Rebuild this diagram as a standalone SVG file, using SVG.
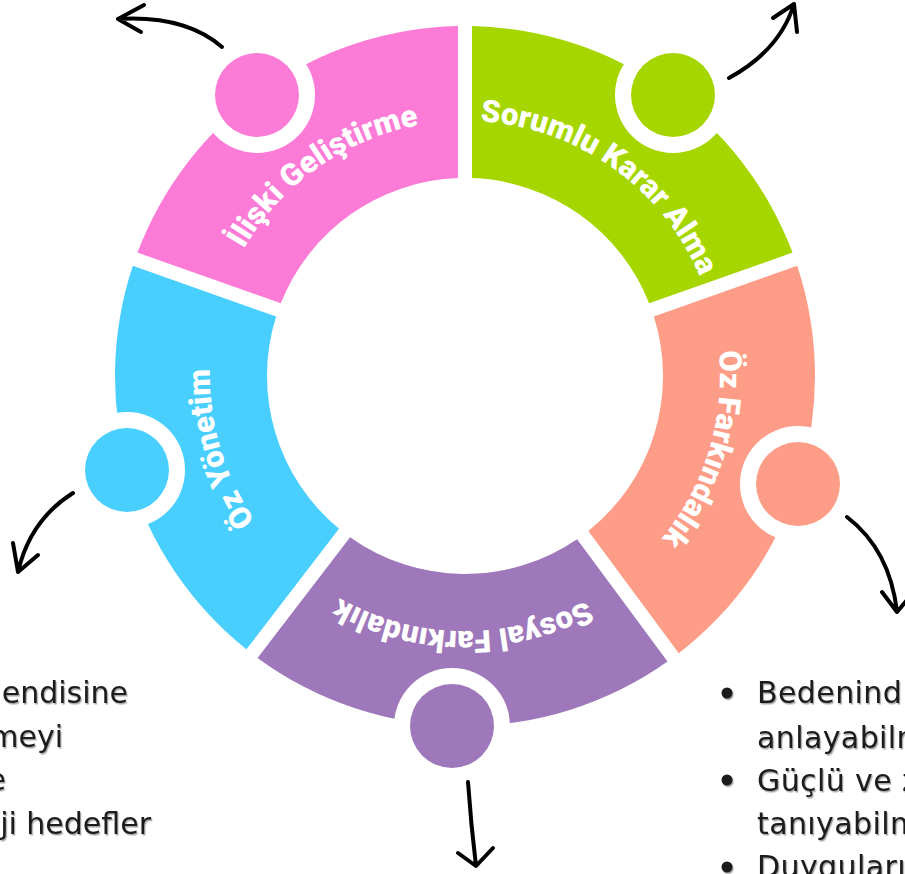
<svg xmlns="http://www.w3.org/2000/svg" xmlns:xlink="http://www.w3.org/1999/xlink" width="905" height="874" viewBox="0 0 905 874">
  <defs>
    <style>
      .label { font-family: Roboto, Inter, "Noto Sans", sans-serif; font-weight: 900; font-size: 31px; fill: #ffffff; }
      .body { font-family: "DejaVu Sans", "Liberation Sans", sans-serif; font-size: 30px; fill: #1c1c1c; filter: url(#shadow); }
      .arrow { fill: none; stroke: #000000; stroke-width: 4; stroke-linecap: round; stroke-linejoin: round; }
      .ring { fill: #ffffff; }
    </style>
    <filter id="shadow" x="-10%" y="-30%" width="120%" height="160%">
      <feDropShadow dx="1.2" dy="1.5" stdDeviation="0.7" flood-color="#000000" flood-opacity="0.35"/>
    </filter>
    <path id="arcPink" d="M218.4,311.1 A255,255 0 0 1 486.1,121.9"/>
    <path id="arcGreen" d="M443.9,121.9 A255,255 0 0 1 711.6,311.1"/>
    <path id="arcSalmon" d="M699.7,276.4 A255,255 0 0 1 603.9,589.9"/>
    <path id="arcPurple" d="M627.2,572.8 A255,255 0 0 1 299.4,569.9"/>
    <path id="arcBlue" d="M324.3,588.6 A255,255 0 0 1 231.1,274.3"/>
  </defs>
  <rect width="905" height="874" fill="#ffffff"/>

  <g id="iliski-gelistirme">
    <path d="M137.48,252.59 A350,350 0 0 1 458,26.07 L458,178.12 A198,198 0 0 0 280.81,303.35 Z" fill="#FB7BD6"/>
    <circle class="ring" cx="257" cy="95" r="58"/>
    <circle cx="257" cy="95" r="42" fill="#FB7BD6"/>
    <text class="label"><textPath xlink:href="#arcPink" href="#arcPink" startOffset="50%" text-anchor="middle">İlişki Geliştirme</textPath></text>
  </g>

  <g id="sorumlu-karar-alma">
    <path d="M472,26.07 A350,350 0 0 1 792.52,252.59 L649.19,303.35 A198,198 0 0 0 472,178.12 Z" fill="#A5D600"/>
    <circle class="ring" cx="673" cy="95" r="58"/>
    <circle cx="673" cy="95" r="42" fill="#A5D600"/>
    <text class="label"><textPath xlink:href="#arcGreen" href="#arcGreen" startOffset="50%" text-anchor="middle">Sorumlu Karar Alma</textPath></text>
  </g>

  <g id="oz-farkindalik">
    <path d="M797.20,265.79 A350,350 0 0 1 678.78,653.13 L588.33,530.90 A198,198 0 0 0 653.86,316.55 Z" fill="#FD9D87"/>
    <circle class="ring" cx="798" cy="484" r="58"/>
    <circle cx="798" cy="484" r="42" fill="#FD9D87"/>
    <text class="label"><textPath xlink:href="#arcSalmon" href="#arcSalmon" startOffset="50%" text-anchor="middle">Öz Farkındalık</textPath></text>
  </g>

  <g id="sosyal-farkindalik">
    <path d="M667.52,661.46 A350,350 0 0 1 257.53,657.88 L350.09,537.25 A198,198 0 0 0 577.07,539.23 Z" fill="#9E78BA"/>
    <circle class="ring" cx="452" cy="726" r="58"/>
    <circle cx="452" cy="726" r="42" fill="#9E78BA"/>
    <text class="label"><textPath xlink:href="#arcPurple" href="#arcPurple" startOffset="50%" text-anchor="middle">Sosyal Farkındalık</textPath></text>
  </g>

  <g id="oz-yonetim">
    <path d="M246.42,649.36 A350,350 0 0 1 132.80,265.79 L276.14,316.55 A198,198 0 0 0 338.99,528.72 Z" fill="#48CFFE"/>
    <circle class="ring" cx="127" cy="470" r="58"/>
    <circle cx="127" cy="470" r="42" fill="#48CFFE"/>
    <text class="label"><textPath xlink:href="#arcBlue" href="#arcBlue" startOffset="50%" text-anchor="middle">Öz Yönetim</textPath></text>
  </g>

  <g id="connectors">
    <path class="arrow" d="M222,47 Q185,15 118,19 M144,5 L118,19 L141,32"/>
    <path class="arrow" d="M729,78 Q780,50 794,4 M773,18 L794,4 L797,32"/>
    <path class="arrow" d="M847,517 Q890,550 897,612 M882,592 L897,612 L912,594"/>
    <path class="arrow" d="M468,782 Q471,825 476,866 M458,853 L476,866 L493,848"/>
    <path class="arrow" d="M73,493 Q30,520 18,572 M13,543 L18,572 L38,555"/>
  </g>

  <g id="left-text">
    <text class="body" x="128" y="703" text-anchor="end">endisine</text>
    <text class="body" x="63" y="747" text-anchor="end">meyi</text>
    <text class="body" x="6" y="790" text-anchor="end">e</text>
    <text class="body" x="151" y="834" text-anchor="end">ji hedefler</text>
  </g>

  <g id="right-text">
    <circle cx="727" cy="693" r="5.5" fill="#1c1c1c" filter="url(#shadow)"/>
    <circle cx="727" cy="780" r="5.5" fill="#1c1c1c" filter="url(#shadow)"/>
    <circle cx="727" cy="867" r="5.5" fill="#1c1c1c" filter="url(#shadow)"/>
    <text class="body" x="757" y="703" letter-spacing="0.4">Bedenind</text>
    <text class="body" x="757" y="748" letter-spacing="0.4">anlayabilm</text>
    <text class="body" x="757" y="791" letter-spacing="0.4">Güçlü ve z</text>
    <text class="body" x="757" y="834" letter-spacing="0.4">tanıyabilm</text>
    <text class="body" x="757" y="877" letter-spacing="0.4">Duyguları</text>
  </g>
</svg>
